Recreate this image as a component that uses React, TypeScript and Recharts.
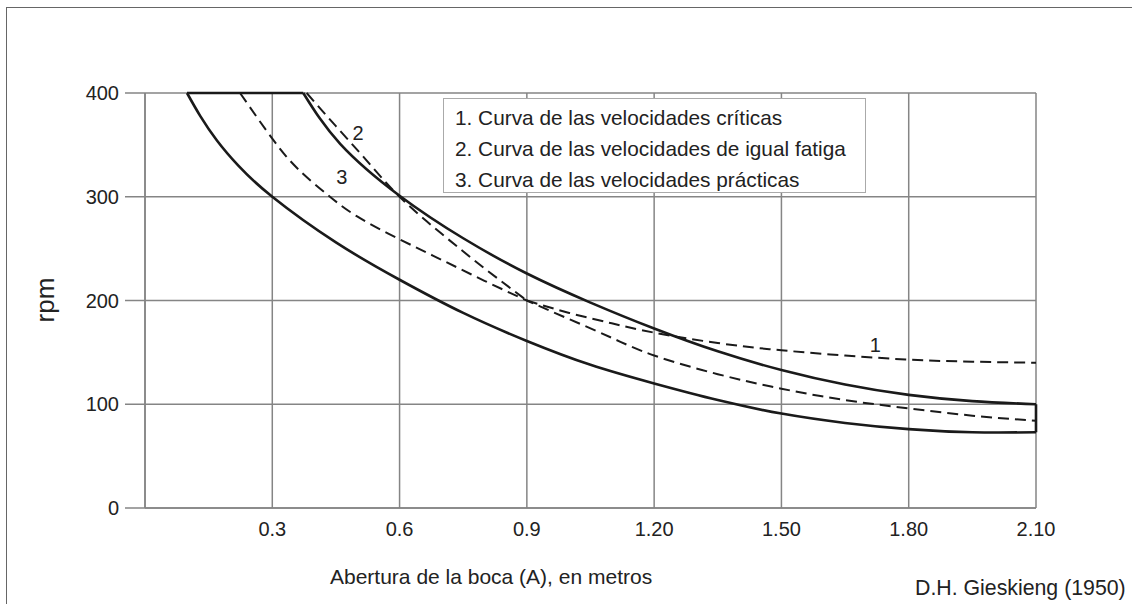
import React from 'react';
import { LineChart, Line, XAxis, YAxis, CartesianGrid, ReferenceDot } from 'recharts';

// ticks
const xTicks = [0.3, 0.6, 0.9, 1.2, 1.5, 1.8, 2.1];
const xTickLabels = ['0.3', '0.6', '0.9', '1.20', '1.50', '1.80', '2.10'];
const yTicks = [0, 100, 200, 300, 400];

// band (solid curves)
const bandLower = [
  { x: 0.099, y: 400 }, { x: 0.13, y: 378 }, { x: 0.17, y: 354 }, { x: 0.22, y: 330 },
  { x: 0.3, y: 300 }, { x: 0.45, y: 256 }, { x: 0.6, y: 220 }, { x: 0.75, y: 188 },
  { x: 0.9, y: 161 }, { x: 1.05, y: 138 }, { x: 1.2, y: 120 }, { x: 1.35, y: 104 },
  { x: 1.5, y: 91 }, { x: 1.65, y: 82 }, { x: 1.8, y: 76 }, { x: 1.95, y: 73 },
  { x: 2.1, y: 73 },
];
const bandUpper = [
  { x: 0.373, y: 400 }, { x: 0.46, y: 351 }, { x: 0.6, y: 301 }, { x: 0.75, y: 260 },
  { x: 0.9, y: 226 }, { x: 1.05, y: 198 }, { x: 1.2, y: 173 }, { x: 1.35, y: 151 },
  { x: 1.5, y: 133 }, { x: 1.65, y: 119 }, { x: 1.8, y: 109 }, { x: 1.95, y: 103 },
  { x: 2.1, y: 100 },
];
const bandTop = [{ x: 0.099, y: 400 }, { x: 0.373, y: 400 }];
const bandEnd = [{ x: 2.1, y: 73 }, { x: 2.1, y: 100 }];

// dashed curves
const curve1 = [
  { x: 0.9, y: 200 }, { x: 1.0, y: 188 }, { x: 1.1, y: 178 }, { x: 1.2, y: 169 },
  { x: 1.35, y: 159 }, { x: 1.5, y: 152 }, { x: 1.65, y: 147 }, { x: 1.8, y: 143 },
  { x: 1.95, y: 141 }, { x: 2.1, y: 140 },
];
const curve2 = [
  { x: 0.381, y: 400 }, { x: 0.45, y: 368 }, { x: 0.52, y: 336 }, { x: 0.6, y: 300 },
  { x: 0.7, y: 264 }, { x: 0.8, y: 231 }, { x: 0.9, y: 200 },
];
const curve3 = [
  { x: 0.224, y: 400 }, { x: 0.3, y: 356 }, { x: 0.36, y: 327 }, { x: 0.43, y: 302 },
  { x: 0.5, y: 281 }, { x: 0.6, y: 259 }, { x: 0.7, y: 239 }, { x: 0.8, y: 219 },
  { x: 0.9, y: 200 }, { x: 1.0, y: 182 }, { x: 1.1, y: 164 }, { x: 1.2, y: 147 },
  { x: 1.35, y: 129 }, { x: 1.5, y: 115 }, { x: 1.65, y: 104 }, { x: 1.8, y: 96 },
  { x: 1.95, y: 89 }, { x: 2.1, y: 84 },
];

const curveTags = [
  { x: 1.721, y: 157, text: '1' },
  { x: 0.502, y: 362, text: '2' },
  { x: 0.464, y: 319, text: '3' },
];

const legendItems = [
  '1. Curva de las velocidades críticas',
  '2. Curva de las velocidades de igual fatiga',
  '3. Curva de las velocidades prácticas',
];

const FONT = '"Liberation Sans", Arial, sans-serif';
const GRID = '#858585';
const INK = '#1a1a1a';

const App: React.FC = () => {
  return (
    <div style={{ position: 'fixed', left: 0, top: 0, width: 1132, height: 604, background: '#fff', fontFamily: FONT }}>
      {/* frame lines */}
      <div style={{ position: 'absolute', left: 6, top: 7, right: 0, height: 0, borderTop: '1.5px solid #666' }} />
      <div style={{ position: 'absolute', left: 6, top: 7, bottom: 0, width: 0, borderLeft: '1.5px solid #666' }} />

      <div style={{ position: 'absolute', left: 0, top: 0 }}>
        <LineChart width={1132} height={604} margin={{ top: 93, right: 96, bottom: 56, left: 0 }}>
          <CartesianGrid stroke={GRID} strokeWidth={1.5} />
          <XAxis
            type="number"
            dataKey="x"
            domain={[0, 2.1]}
            ticks={xTicks}
            tickFormatter={(v: number) => xTickLabels[xTicks.indexOf(v)] ?? String(v)}
            tickLine={false}
            tickSize={12}
            tickMargin={2}
            height={40}
            axisLine={{ stroke: GRID, strokeWidth: 1.5 }}
            tick={{ fill: '#222', fontSize: 20, fontFamily: FONT }}
            allowDuplicatedCategory={false}
          />
          <YAxis
            type="number"
            dataKey="y"
            domain={[0, 400]}
            ticks={yTicks}
            width={145}
            tickSize={20}
            tickMargin={6}
            axisLine={{ stroke: GRID, strokeWidth: 1.5 }}
            tickLine={{ stroke: GRID, strokeWidth: 1.5 }}
            tick={{ fill: '#222', fontSize: 20, fontFamily: FONT }}
          />

          <Line data={bandLower} dataKey="y" type="natural" stroke={INK} strokeWidth={2.6} dot={false} isAnimationActive={false} />
          <Line data={bandUpper} dataKey="y" type="natural" stroke={INK} strokeWidth={2.6} dot={false} isAnimationActive={false} />
          <Line data={bandTop} dataKey="y" type="linear" stroke={INK} strokeWidth={2.6} dot={false} isAnimationActive={false} />
          <Line data={bandEnd} dataKey="y" type="linear" stroke={INK} strokeWidth={2.6} dot={false} isAnimationActive={false} />

          <Line data={curve1} dataKey="y" type="natural" stroke={INK} strokeWidth={2} strokeDasharray="11 6" dot={false} isAnimationActive={false} />
          <Line data={curve2} dataKey="y" type="natural" stroke={INK} strokeWidth={2} strokeDasharray="11 6" dot={false} isAnimationActive={false} />
          <Line data={curve3} dataKey="y" type="natural" stroke={INK} strokeWidth={2} strokeDasharray="11 6" dot={false} isAnimationActive={false} />

          {curveTags.map((t) => (
            <ReferenceDot
              key={t.text}
              x={t.x}
              y={t.y}
              r={1}
              fill="none"
              stroke="none"
              label={{ value: t.text, position: 'center', fill: '#222', fontSize: 20, fontFamily: FONT }}
            />
          ))}
        </LineChart>
      </div>

      {/* legend box */}
      <div
        style={{
          position: 'absolute', left: 443, top: 98, width: 421, height: 90,
          border: '1.5px solid #aaa', background: '#fff', boxSizing: 'content-box',
          paddingTop: 3, fontSize: 20.8, lineHeight: '31px', color: '#222',
        }}
      >
        {legendItems.map((s) => (
          <div key={s} style={{ paddingLeft: 11, whiteSpace: 'nowrap', height: 31 }}>{s}</div>
        ))}
      </div>

      {/* axis titles and source */}
      <div style={{ position: 'absolute', left: 12, top: 300, width: 66, height: 0 }}>
        <div style={{ position: 'absolute', left: 33, top: 0, transform: 'translate(-50%, -50%) rotate(-90deg)', fontSize: 26, color: '#222', whiteSpace: 'nowrap' }}>rpm</div>
      </div>
      <div style={{ position: 'absolute', left: 330, top: 565, fontSize: 21, color: '#222', whiteSpace: 'nowrap' }}>
        Abertura de la boca (A), en metros
      </div>
      <div style={{ position: 'absolute', left: 915, top: 576, fontSize: 21.3, color: '#222', whiteSpace: 'nowrap' }}>
        D.H. Gieskieng (1950)
      </div>
    </div>
  );
};

export default App;
